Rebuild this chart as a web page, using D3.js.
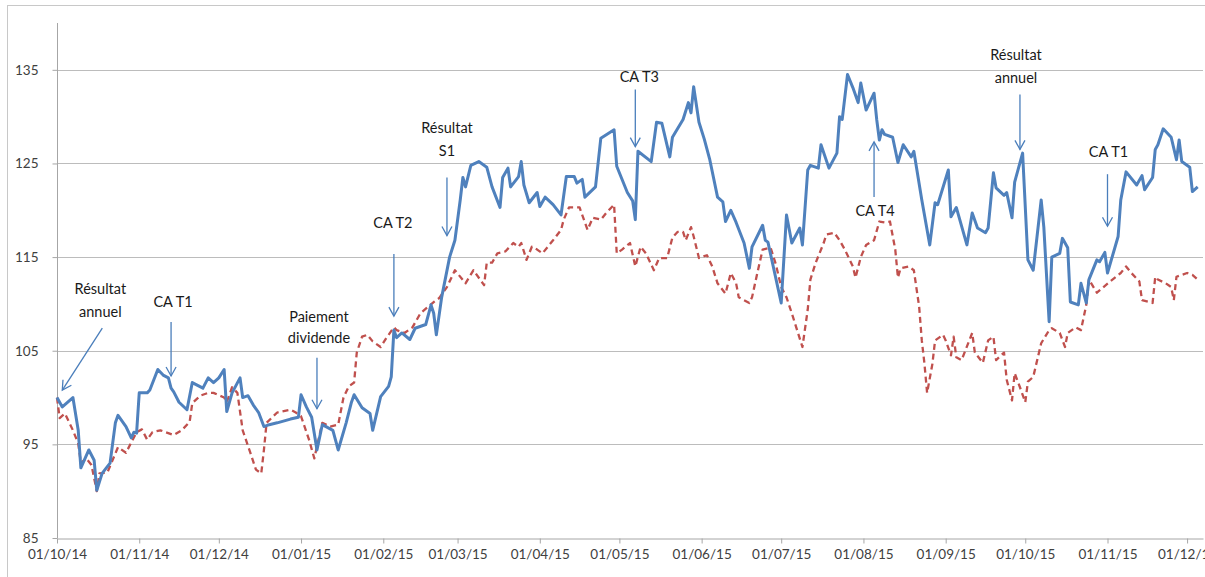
<!DOCTYPE html>
<html>
<head>
<meta charset="utf-8">
<script src="https://cdn.jsdelivr.net/npm/d3@7"></script>
<style>
  body { margin: 0; background: #fff; }
  svg { display: block; font-family: Lato, "Open Sans", sans-serif; }
</style>
</head>
<body>
<div id="chart"></div>
<script>
// ---- data (index, base 100 on 01/10/14) ----
var blueDates = ["01/10/14","03/10/14","07/10/14","09/10/14","10/10/14","13/10/14","15/10/14","16/10/14","18/10/14","21/10/14",
  "23/10/14","24/10/14","27/10/14","29/10/14","30/10/14","31/10/14","01/11/14","04/11/14","05/11/14","08/11/14",
  "10/11/14","12/11/14","13/11/14","14/11/14","16/11/14","19/11/14","21/11/14","25/11/14","27/11/14","29/11/14",
  "01/12/14","03/12/14","04/12/14","06/12/14","09/12/14","10/12/14","12/12/14","14/12/14","16/12/14","18/12/14",
  "20/12/14","23/12/14","28/12/14","31/12/14","01/01/15","03/01/15","05/01/15","07/01/15","09/01/15","13/01/15",
  "15/01/15","18/01/15","20/01/15","21/01/15","24/01/15","27/01/15","28/01/15","31/01/15","03/02/15","04/02/15",
  "05/02/15","06/02/15","08/02/15","11/02/15","13/02/15","17/02/15","19/02/15","20/02/15","21/02/15","23/02/15",
  "26/02/15","28/02/15","02/03/15","03/03/15","04/03/15","06/03/15","09/03/15","12/03/15","14/03/15","17/03/15",
  "18/03/15","20/03/15","21/03/15","24/03/15","25/03/15","26/03/15","28/03/15","31/03/15","01/04/15","03/04/15",
  "06/04/15","09/04/15","11/04/15","14/04/15","15/04/15","17/04/15","18/04/15","22/04/15","24/04/15","29/04/15",
  "30/04/15","04/05/15","06/05/15","07/05/15","08/05/15","13/05/15","15/05/15","17/05/15","20/05/15","21/05/15",
  "25/05/15","27/05/15","28/05/15","29/05/15","31/05/15","02/06/15","04/06/15","07/06/15","09/06/15","10/06/15",
  "12/06/15","14/06/15","17/06/15","19/06/15","20/06/15","24/06/15","25/06/15","26/06/15","28/06/15","01/07/15",
  "03/07/15","05/07/15","08/07/15","09/07/15","11/07/15","12/07/15","15/07/15","16/07/15","19/07/15","22/07/15",
  "23/07/15","24/07/15","26/07/15","28/07/15","30/07/15","31/07/15","02/08/15","05/08/15","06/08/15","07/08/15",
  "08/08/15","09/08/15","12/08/15","14/08/15","16/08/15","19/08/15","20/08/15","23/08/15","26/08/15","28/08/15",
  "29/08/15","02/09/15","03/09/15","05/09/15","09/09/15","11/09/15","13/09/15","16/09/15","17/09/15","19/09/15",
  "20/09/15","23/09/15","24/09/15","26/09/15","27/09/15","30/09/15","02/10/15","04/10/15","07/10/15","08/10/15",
  "10/10/15","11/10/15","14/10/15","15/10/15","17/10/15","18/10/15","21/10/15","22/10/15","24/10/15","25/10/15",
  "28/10/15","29/10/15","31/10/15","01/11/15","05/11/15","06/11/15","08/11/15","12/11/15","14/11/15","15/11/15",
  "18/11/15","19/11/15","20/11/15","22/11/15","25/11/15","27/11/15","28/11/15","29/11/15","02/12/15","03/12/15",
  "05/12/15"];
var blueValues = [100,99,100,96.5,92.5,94.4,93.3,90.1,91.9,93,
  97.3,98.1,96.9,95.7,96.3,96.2,100.5,100.5,100.8,103,
  102.4,102.1,101,100.6,99.5,98.7,101.6,101,102.1,101.6,
  102.1,103,98.5,100.5,102.1,100,100.2,99.2,98.4,96.9,
  97.1,97.3,97.7,97.9,100.3,99,97.9,94.4,97.1,96.5,
  94.4,97.3,99.5,100.3,98.9,98.3,96.5,100.1,101.2,102.2,
  107.2,106.4,106.9,106.2,107.4,107.8,109.9,109,106.7,110.7,
  115,116.8,121.1,123.5,122.5,124.8,125.2,124.6,122.5,120.3,
  123.5,124.5,122.5,123.6,125.2,122.7,120.8,121.9,120.4,121.4,
  120.6,119.5,123.6,123.6,122.9,123.3,121.4,122.5,127.7,128.6,
  124.7,121.9,121,119,126.3,125.2,129.4,129.3,125.7,127.8,
  129.7,131.5,130.4,133.2,129.4,127.6,125.5,121.4,120.9,118.8,
  120,118.7,116.5,113.8,116.1,118.4,116.8,116.6,114,110.1,
  119.5,116.5,118.1,116.3,124.3,124.8,124.5,127,124.5,126.1,
  130,129.7,134.5,133.1,131.5,133.6,130.7,132.5,129.7,127.5,
  128.6,128.1,127.8,125.1,127,125.7,126.3,121.1,116.3,120.8,
  120.6,124.3,119.3,120.3,116.3,119.7,118.1,117.6,118.1,124,
  122.4,121.6,121.9,119.2,123,126.1,114.7,113.6,121.1,118.2,
  108.1,115,115.4,117,116,110.2,109.9,112.2,110.1,112.6,
  114.7,114.5,115.5,113.3,117.2,121.1,124.1,122.7,123.7,122.2,
  123.5,126.5,127,128.7,127.8,125.4,127.5,125.2,124.6,122,
  122.5];

var redDates = ["01/10/14","02/10/14","04/10/14","07/10/14","09/10/14","10/10/14","12/10/14","14/10/14","16/10/14","17/10/14",
  "20/10/14","24/10/14","27/10/14","31/10/14","02/11/14","04/11/14","06/11/14","09/11/14","11/11/14","14/11/14",
  "17/11/14","20/11/14","21/11/14","24/11/14","27/11/14","29/11/14","03/12/14","04/12/14","06/12/14","08/12/14",
  "10/12/14","13/12/14","15/12/14","17/12/14","18/12/14","19/12/14","23/12/14","28/12/14","30/12/14","01/01/15",
  "04/01/15","06/01/15","09/01/15","12/01/15","15/01/15","17/01/15","19/01/15","21/01/15","22/01/15","24/01/15",
  "26/01/15","28/01/15","31/01/15","02/02/15","05/02/15","06/02/15","09/02/15","12/02/15","15/02/15","20/02/15",
  "22/02/15","25/02/15","28/02/15","04/03/15","07/03/15","11/03/15","12/03/15","14/03/15","16/03/15","19/03/15",
  "22/03/15","24/03/15","25/03/15","27/03/15","29/03/15","31/03/15","02/04/15","06/04/15","09/04/15","10/04/15",
  "12/04/15","16/04/15","19/04/15","21/04/15","24/04/15","26/04/15","29/04/15","30/04/15","02/05/15","05/05/15",
  "07/05/15","09/05/15","11/05/15","14/05/15","16/05/15","19/05/15","21/05/15","23/05/15","25/05/15","26/05/15",
  "28/05/15","29/05/15","31/05/15","03/06/15","05/06/15","07/06/15","10/06/15","12/06/15","14/06/15","15/06/15",
  "19/06/15","20/06/15","22/06/15","24/06/15","27/06/15","29/06/15","01/07/15","03/07/15","05/07/15","09/07/15",
  "11/07/15","12/07/15","14/07/15","17/07/15","18/07/15","21/07/15","23/07/15","25/07/15","28/07/15","29/07/15",
  "31/07/15","02/08/15","05/08/15","07/08/15","09/08/15","11/08/15","13/08/15","14/08/15","15/08/15","18/08/15",
  "20/08/15","22/08/15","23/08/15","24/08/15","25/08/15","27/08/15","28/08/15","31/08/15","01/09/15","03/09/15",
  "04/09/15","05/09/15","07/09/15","11/09/15","12/09/15","15/09/15","17/09/15","19/09/15","20/09/15","23/09/15",
  "24/09/15","26/09/15","27/09/15","29/09/15","01/10/15","02/10/15","04/10/15","07/10/15","10/10/15","11/10/15",
  "14/10/15","16/10/15","17/10/15","20/10/15","22/10/15","24/10/15","25/10/15","28/10/15","02/11/15","06/11/15",
  "08/11/15","10/11/15","13/11/15","14/11/15","18/11/15","19/11/15","20/11/15","23/11/15","25/11/15","26/11/15",
  "27/11/15","01/12/15","03/12/15","05/12/15"];
var redValues = [100,97.8,98.3,96.5,95.1,93,93.5,92.8,90,91.9,
  92,94.7,94.1,96.3,96.6,95.5,96.3,96.5,96.3,96,
  96.5,97.4,99.4,100.2,100.5,100.5,100,99.5,101.1,100.5,
  96.5,94,92.3,91.9,94.4,97.3,98.4,98.7,98.4,98,
  95.5,93.5,97.3,96.9,97.1,100,101.2,101.6,104.8,106.5,
  106.7,106,105.4,106.3,107.5,107.2,106.9,107.5,109,110.2,
  110.6,111.8,113.6,112.2,113.6,112,114.4,114.4,115.4,115.6,
  116.5,116.1,116.5,114.7,116.1,115.8,115.4,116.8,117.9,119,
  120.3,120.3,117.9,119.2,119,119.7,120.6,115.4,115.8,116.5,
  114,116.1,115.4,113.6,114.9,114.9,117.1,117.7,117.7,116.8,
  118.2,117.2,114.9,115.2,114,112.2,111.1,113.3,112.2,110.7,
  110.1,110.7,113.3,115.8,116,114.2,111.8,110.7,109,105.4,
  109.4,112.6,114.4,116.5,117.4,117.6,116.8,115.8,114,112.8,
  115,116.3,116.8,118.8,118.7,118.8,115.8,112.8,113.8,114,
  113.6,109.7,106.1,103.6,100.5,103.6,106.1,106.7,106.1,104.5,
  106.5,104.3,104,106.9,104.8,103.7,106.1,106.5,104,104.8,
  101.9,99.7,102.6,101.1,99.5,101.7,102.2,105.8,107.2,107.4,
  106.9,105.4,106.9,107.5,107.2,109.9,112.6,111.2,112.4,113.3,
  114,113.3,112.4,110.4,110.1,112.9,112.6,112.2,111.8,110.4,
  112.9,113.3,113.1,112.6];

var yTicks = [85, 95, 105, 115, 125, 135];

// events: text lines, date and level the arrow points at
var noteLabels = [["Résultat", "annuel"], ["CA T1"], ["Paiement", "dividende"], ["CA T2"], ["Résultat", "S1"],
  ["CA T3"], ["CA T4"], ["Résultat", "annuel"], ["CA T1"]];
var noteDates = ["03/10/14", "13/11/14", "07/01/15", "05/02/15", "25/02/15", "07/05/15", "05/08/15", "29/09/15", "01/11/15"];
var noteValues = [100.8, 102.3, 98.8, 108.7, 117.3, 126.8, 127.3, 126.5, 118.3];

// ---- layout ----
var W = 1205, H = 577;
var parse = d3.timeParse("%d/%m/%y");
var x = d3.scaleTime().domain([parse("01/10/14"), parse("07/12/15")]).range([57, 1203]);
var y = d3.scaleLinear().domain([85, 140]).range([538, 23]);

var svg = d3.select("#chart").append("svg").attr("width", W).attr("height", H);

svg.append("rect").attr("x", 7.5).attr("y", 5.5).attr("width", W).attr("height", H)
  .attr("fill", "#fff").attr("stroke", "#c8c8c8");

// gridlines
svg.append("g").selectAll("line").data(yTicks.slice(1)).join("line")
  .attr("x1", x.range()[0]).attr("x2", x.range()[1])
  .attr("y1", function(d) { return Math.round(y(d)) + 0.5; })
  .attr("y2", function(d) { return Math.round(y(d)) + 0.5; })
  .attr("stroke", "#bcbcbc").attr("stroke-width", 1);

// y axis
var yAxis = svg.append("g").attr("transform", "translate(57.5,0)")
  .call(d3.axisLeft(y).tickValues(yTicks).tickSize(5).tickPadding(14));
yAxis.select(".domain").attr("d", "M0," + y(140) + "V" + y(85)).attr("stroke", "#a6a6a6");
yAxis.selectAll(".tick line").attr("stroke", "#a6a6a6");
yAxis.selectAll("text").attr("fill", "#404040").style("font-size", "13.5px").style("font-family", "Lato, sans-serif");

// x axis
var xAxis = svg.append("g").attr("transform", "translate(0," + (Math.round(y(85)) + 0.5) + ")")
  .call(d3.axisBottom(x).ticks(d3.timeMonth.every(1)).tickFormat(d3.timeFormat("%d/%m/%y"))
    .tickSize(5).tickSizeOuter(0).tickPadding(6));
xAxis.select(".domain").attr("stroke", "#a6a6a6");
xAxis.selectAll(".tick line").attr("stroke", "#a6a6a6");
xAxis.selectAll("text").attr("fill", "#404040").style("font-size", "13.5px").style("font-family", "Lato, sans-serif");

// series
var line = d3.line().x(function(d) { return x(d[0]); }).y(function(d) { return y(d[1]); });
var red = redDates.map(function(d, i) { return [parse(d), redValues[i]]; });
var blue = blueDates.map(function(d, i) { return [parse(d), blueValues[i]]; });

svg.append("path").datum(red).attr("d", line)
  .attr("fill", "none").attr("stroke", "#c0504d").attr("stroke-width", 2.3)
  .attr("stroke-dasharray", "6,4").attr("stroke-linejoin", "round");
svg.append("path").datum(blue).attr("d", line)
  .attr("fill", "none").attr("stroke", "#4f81bd").attr("stroke-width", 3)
  .attr("stroke-linejoin", "round");

// annotations
var arrowCol = "#4a7ebb";
svg.append("defs").append("marker").attr("id", "head")
  .attr("viewBox", "-10 -6 12 12").attr("refX", 0).attr("refY", 0)
  .attr("markerWidth", 12).attr("markerHeight", 12).attr("markerUnits", "userSpaceOnUse")
  .attr("orient", "auto")
  .append("path").attr("d", "M-9,-5L0,0L-9,5").attr("fill", "none")
  .attr("stroke", arrowCol).attr("stroke-width", 1.3);

// tail offset and text offset from the arrow tip, line spacing
var noteLayout = [[40, -62, 38, -101, 23], [0, -54, 2, -74, 0], [0, -51, 2, -92, 21], [0, -62, -1, -93, 0],
  [0, -58, 0, -108, 23], [0, -57, 4, -70, 0], [0, 55, 1, 69, 0], [0, -55, -4, -94, 23], [0, -52, 1, -74, 0]];

noteLabels.forEach(function(lines, i) {
  var tx = x(parse(noteDates[i])), ty = y(noteValues[i]);
  var L = noteLayout[i];
  svg.append("line")
    .attr("x1", tx + L[0]).attr("y1", ty + L[1]).attr("x2", tx).attr("y2", ty)
    .attr("stroke", arrowCol).attr("stroke-width", 1.3).attr("marker-end", "url(#head)");
  var t = svg.append("text").attr("text-anchor", "middle").attr("fill", "#1a1a1a")
    .style("font-size", "14.5px");
  lines.forEach(function(s, j) {
    t.append("tspan").attr("x", tx + L[2]).attr("y", ty + L[3] + j * L[4])
      .attr("dy", "0.35em").text(s);
  });
});
</script>
</body>
</html>
